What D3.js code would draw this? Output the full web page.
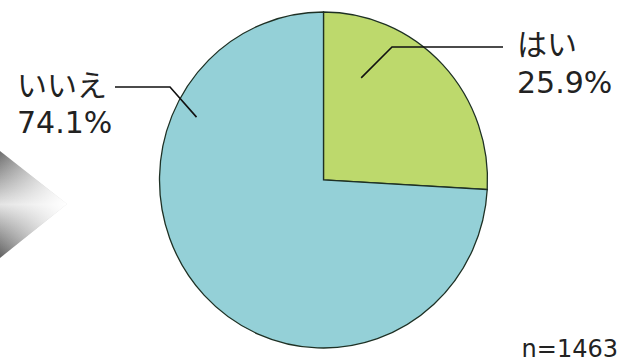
<!DOCTYPE html>
<html>
<head>
<meta charset="utf-8">
<script src="https://cdn.jsdelivr.net/npm/d3@7"></script>
<style>
  body { margin: 0; background: #fff; }
  svg { display: block; }
  text { font-family: "DejaVu Sans", "Noto Sans CJK JP", sans-serif; fill: #222; }
</style>
</head>
<body>
<svg id="chart" width="621" height="364"></svg>
<script>
"use strict";

// Data
var categories = ["はい", "いいえ"];
var percents = [25.9, 74.1];
var sampleLabel = "n=1463";
var colours = ["#bdd96c", "#94d0d7"];

var svg = d3.select("#chart");
var cx = 323.5, cy = 180;
var rx = 164, ry = 168;

// gray chevron on the left
var defs = svg.append("defs");
var gv = defs.append("linearGradient").attr("id", "chevV")
  .attr("x1", 0).attr("y1", 0).attr("x2", 0).attr("y2", 1);
gv.append("stop").attr("offset", "0%").attr("stop-color", "#6e6e6e");
gv.append("stop").attr("offset", "50%").attr("stop-color", "#e4e4e4");
gv.append("stop").attr("offset", "100%").attr("stop-color", "#606060");
var gh = defs.append("linearGradient").attr("id", "chevH")
  .attr("x1", 0).attr("y1", 0).attr("x2", 1).attr("y2", 0);
gh.append("stop").attr("offset", "0%").attr("stop-color", "#fff").attr("stop-opacity", 0);
gh.append("stop").attr("offset", "100%").attr("stop-color", "#fff").attr("stop-opacity", 1);

var chev = [[0, 151], [67, 204], [0, 258]];
svg.append("polygon").attr("points", chev.join(" ")).attr("fill", "url(#chevV)");
svg.append("polygon").attr("points", chev.join(" ")).attr("fill", "url(#chevH)");

// pie
var pie = d3.pie().sort(null).value(d => d);
var arcs = pie(percents);
var arc = d3.arc().innerRadius(0).outerRadius(ry);

var g = svg.append("g")
  .attr("transform", "translate(" + cx + "," + cy + ") scale(" + (rx / ry) + ",1)");

g.selectAll("path")
  .data(arcs)
  .enter().append("path")
  .attr("d", arc)
  .attr("fill", (d, i) => colours[i])
  .attr("stroke", "#1e3024")
  .attr("stroke-width", 1.3)
  .attr("vector-effect", "non-scaling-stroke");

// leader lines: point inside slice (angle, radius fraction) -> elbow -> horizontal end
function polar(a, f) {
  var rad = a * Math.PI / 180;
  return [cx + Math.sin(rad) * rx * f, cy - Math.cos(rad) * ry * f];
}
var leaders = [
  { inner: polar(20.7, 0.65), elbow: [392, 47], end: 503 },
  { inner: polar(295.8, 0.86), elbow: [170, 87], end: 115 }
];
leaders.forEach(function(l) {
  svg.append("polyline")
    .attr("points", [l.inner, l.elbow, [l.end, l.elbow[1]]].join(" "))
    .attr("fill", "none")
    .attr("stroke", "#111")
    .attr("stroke-width", 1.6);
});

// labels
var labelPos = [[517, 55, 93], [17, 96, 133]];
categories.forEach(function(c, i) {
  var t = svg.append("text").attr("font-size", 30);
  t.append("tspan").attr("x", labelPos[i][0]).attr("y", labelPos[i][1]).text(c);
  t.append("tspan").attr("x", labelPos[i][0]).attr("y", labelPos[i][2])
    .text(percents[i].toFixed(1) + "%");
});

svg.append("text")
  .attr("x", 618).attr("y", 357)
  .attr("text-anchor", "end")
  .attr("font-size", 24)
  .text(sampleLabel);
</script>
</body>
</html>
